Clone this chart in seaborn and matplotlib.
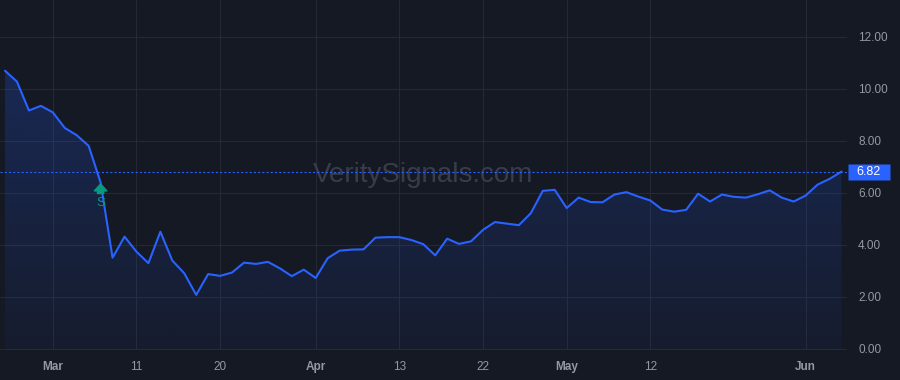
import numpy as np
import pandas as pd
import matplotlib
matplotlib.use("Agg")
import matplotlib.pyplot as plt
import seaborn as sns
from matplotlib.colors import LinearSegmentedColormap, to_rgba
from matplotlib.transforms import blended_transform_factory

# ---------------- data ----------------
values = [10.70, 10.28, 9.17, 9.35, 9.10, 8.50, 8.22, 7.81, 6.40, 3.51,
          4.32, 3.74, 3.30, 4.51, 3.40, 2.91, 2.08, 2.88, 2.81, 2.94,
          3.32, 3.27, 3.35, 3.10, 2.80, 3.05, 2.73, 3.49, 3.78, 3.82,
          3.83, 4.28, 4.30, 4.30, 4.19, 4.03, 3.60, 4.24, 4.04, 4.14,
          4.58, 4.88, 4.82, 4.76, 5.22, 6.08, 6.12, 5.42, 5.82, 5.65,
          5.64, 5.94, 6.03, 5.86, 5.71, 5.36, 5.28, 5.35, 5.97, 5.67,
          5.94, 5.85, 5.82, 5.95, 6.10, 5.82, 5.67, 5.90, 6.32, 6.54,
          6.82]
tick_positions = [4, 11, 18, 26, 33, 40, 47, 54, 67]
tick_labels = ["Mar", "11", "20", "Apr", "13", "22", "May", "12", "Jun"]
month_labels = ["Mar", "Apr", "May", "Jun"]
y_ticks = [0, 2, 4, 6, 8, 10, 12]
signal_index = 8
signal_label = "S"
watermark = "VeritySignals.com"
last_price = values[-1]

# ---------------- style ----------------
BG = "#151924"
LINE = "#2962ff"
GRID = "#252935"
TEXT = "#9598a1"
GREEN = "#089981"
WM = "#393d49"

sns.set_theme(style="dark")
plt.rcParams["font.family"] = ["Liberation Sans", "DejaVu Sans"]

fig = plt.figure(figsize=(9, 3.8), dpi=100, facecolor=BG)
ax = fig.add_axes([0, 30 / 380, 847 / 900, 350 / 380])
ax.set_facecolor(BG)

df = pd.DataFrame({"i": np.arange(len(values)), "price": values})

# watermark
ax.text(0.5, 0.48, watermark, transform=ax.transAxes, ha="center",
        va="baseline", fontsize=20, color=WM, zorder=1)

# gradient area
poly = ax.fill_between(df["i"], df["price"], -1, color="none", lw=0)
ymax = max(values)
grad = np.linspace(0, 1, 256).reshape(-1, 1)
cmap = LinearSegmentedColormap.from_list(
    "g", [to_rgba(LINE, 0.04), to_rgba(LINE, 0.22)])
im = ax.imshow(grad, cmap=cmap, origin="lower", aspect="auto",
               extent=[0, len(values) - 1, -0.5, ymax], zorder=2,
               interpolation="bilinear")
im.set_clip_path(poly.get_paths()[0], transform=ax.transData)

# line
sns.lineplot(data=df, x="i", y="price", ax=ax, color=LINE, linewidth=1.5,
             zorder=4)

# last price dotted line
ax.axhline(last_price, color=LINE, lw=0.8, ls=(0, (1.9, 1.9)), zorder=3)

# signal marker
ax.annotate("", xy=(signal_index, values[signal_index]), xytext=(0, -11),
            textcoords="offset pixels",
            arrowprops=dict(arrowstyle="simple,head_length=0.5,head_width=0.9,tail_width=0.45",
                            color=GREEN, mutation_scale=10, shrinkA=0, shrinkB=1),
            zorder=5)
ax.annotate(signal_label, xy=(signal_index, values[signal_index]),
            xytext=(0, -20), textcoords="offset pixels", ha="center",
            va="center", color=GREEN, fontsize=9.5, zorder=5)

# price label on the right axis
trans = blended_transform_factory(ax.transAxes, ax.transData)
verts = [(-20.5, -8.3), (20.5, -8.3), (20.5, 8.3), (-20.5, 8.3), (-20.5, -8.3)]
ax.plot([1.0254], [last_price], transform=trans, marker=verts, ms=30,
        mfc=LINE, mec="none", ls="none", clip_on=False, zorder=6)
ax.text(1.0254, last_price, f"{last_price:.2f}", transform=trans,
        ha="center", va="center", color="white", fontsize=9, zorder=7,
        clip_on=False)

# axes
ax.set_xlim(-0.42, 70.46)
ax.set_ylim(-0.04, 13.42)
ax.yaxis.tick_right()
ax.set_yticks(y_ticks, [f"{v:.2f}" for v in y_ticks])
ax.set_xticks(tick_positions, tick_labels)
for lab in ax.get_xticklabels():
    if lab.get_text() in month_labels:
        lab.set_fontweight("bold")
ax.tick_params(axis="y", length=0, pad=8, labelsize=8.5, labelcolor=TEXT)
ax.tick_params(axis="x", length=0, pad=8, labelsize=8.5, labelcolor=TEXT)
ax.set_xlabel("")
ax.set_ylabel("")
ax.grid(True, color=GRID, lw=0.75)
ax.set_axisbelow(True)
for s in ax.spines.values():
    s.set_visible(False)

fig.savefig("out.png", dpi=100, facecolor=BG)
